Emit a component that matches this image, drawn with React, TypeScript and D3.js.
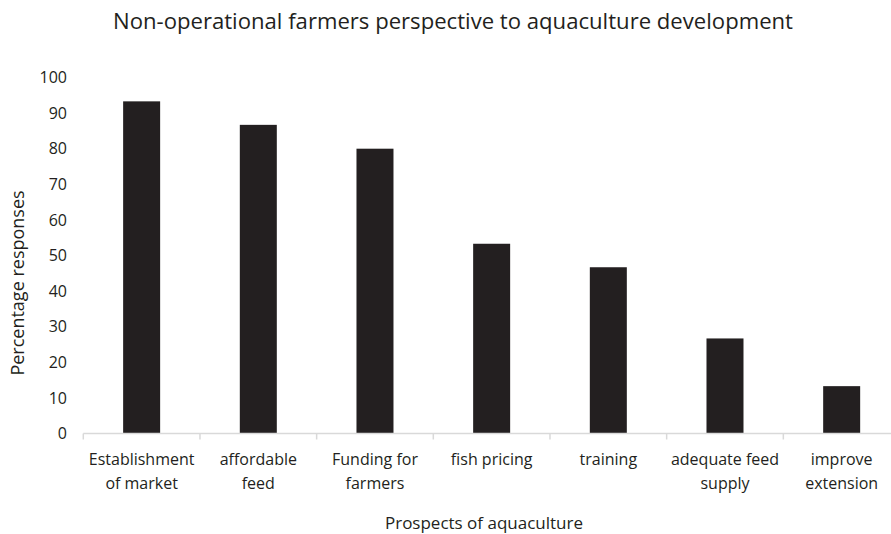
import React from "react";
import * as d3 from "d3";

const categories = [
  ["Establishment", "of market"],
  ["affordable", "feed"],
  ["Funding for", "farmers"],
  ["fish pricing"],
  ["training"],
  ["adequate feed", "supply"],
  ["improve", "extension"],
];
const values = [93.3, 86.7, 80, 53.3, 46.7, 26.7, 13.3];
const yTicks = [0, 10, 20, 30, 40, 50, 60, 70, 80, 90, 100];
const title = "Non-operational farmers perspective to aquaculture development";
const xTitle = "Prospects of aquaculture";
const yTitle = "Percentage responses";

const W = 891, H = 534;
const FONT = "'Open Sans', 'Noto Sans', sans-serif";

export default function App() {
  const x = d3.scaleBand<number>().domain(d3.range(categories.length)).range([83.3, 900]).paddingInner(0).paddingOuter(0);
  const y = d3.scaleLinear().domain([0, 100]).range([433.5, 77.5]);
  const barW = 37;
  return (
    <svg width={W} height={H} style={{ position: "absolute", left: 0, top: 0 }} fontFamily={FONT}>
      <rect width={W} height={H} fill="#fff" />
      <text x={453} y={29} textAnchor="middle" fontSize={22} fill="#231f20" textLength={680} lengthAdjust="spacingAndGlyphs">{title}</text>
      {yTicks.map((t) => (
        <text key={t} x={67} y={y(t)} dy="0.35em" textAnchor="end" fontSize={16} fill="#231f20">{t}</text>
      ))}
      {values.map((v, i) => (
        <rect key={i} x={x(i)! + x.bandwidth() / 2 - barW / 2} y={y(v)} width={barW} height={y(0) - y(v)} fill="#231f20" />
      ))}
      <line x1={x.range()[0]} x2={x.range()[1]} y1={y(0)} y2={y(0)} stroke="#d9d9d9" strokeWidth={1.5} />
      {d3.range(categories.length + 1).map((i) => {
        const xx = 83.3 + i * x.bandwidth();
        return <line key={i} x1={xx} x2={xx} y1={y(0)} y2={y(0) + 6} stroke="#d9d9d9" strokeWidth={1.5} />;
      })}
      {categories.map((lines, i) => (
        <text key={i} x={x(i)! + x.bandwidth() / 2} y={465} textAnchor="middle" fontSize={16} fill="#231f20">
          {lines.map((l, j) => (
            <tspan key={j} x={x(i)! + x.bandwidth() / 2} dy={j === 0 ? 0 : 24}>{l}</tspan>
          ))}
        </text>
      ))}
      <text x={484} y={529} textAnchor="middle" fontSize={17} fill="#231f20">{xTitle}</text>
      <text transform={`translate(24,283) rotate(-90)`} textAnchor="middle" fontSize={18} fill="#231f20">{yTitle}</text>
    </svg>
  );
}
